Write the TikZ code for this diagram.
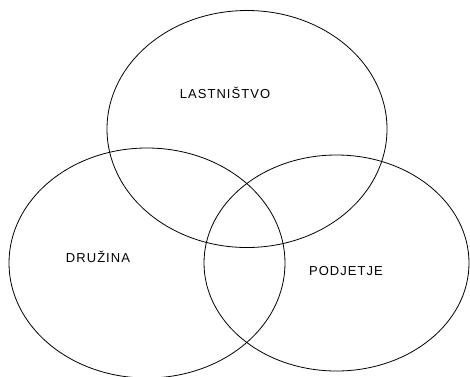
\documentclass[tikz,border=0pt]{standalone}
\usepackage{fontspec}
\setmainfont{Liberation Sans}
\newfontfamily\vennfont[LetterSpace=8]{Liberation Sans}
\usepackage{tikz}
\usetikzlibrary{shapes.geometric,positioning}
\tikzset{
  setnode/.style={ellipse,draw,line width=0.8pt,inner sep=0pt},
  lbl/.style={font=\vennfont\fontsize{13}{15}\selectfont,inner sep=0pt}
}

\begin{document}
\begin{tikzpicture}[x=1pt,y=-1pt]
\useasboundingbox (0,0) rectangle (470,376);
\node[setnode,minimum width=280pt,minimum height=237pt] (own) at (247,129) {};
\node[setnode,minimum width=276pt,minimum height=230pt] (fam) at (147,263) {};
\node[setnode,minimum width=265pt,minimum height=216pt] (firm) at (336.5,263) {};
\node[lbl] (ownlbl) at (225,93) {LASTNIŠTVO};
\node[lbl] (famlbl) at (98,257) {DRUŽINA};
\node[lbl] (firmlbl) at (346,271) {PODJETJE};
\end{tikzpicture}
\end{document}
